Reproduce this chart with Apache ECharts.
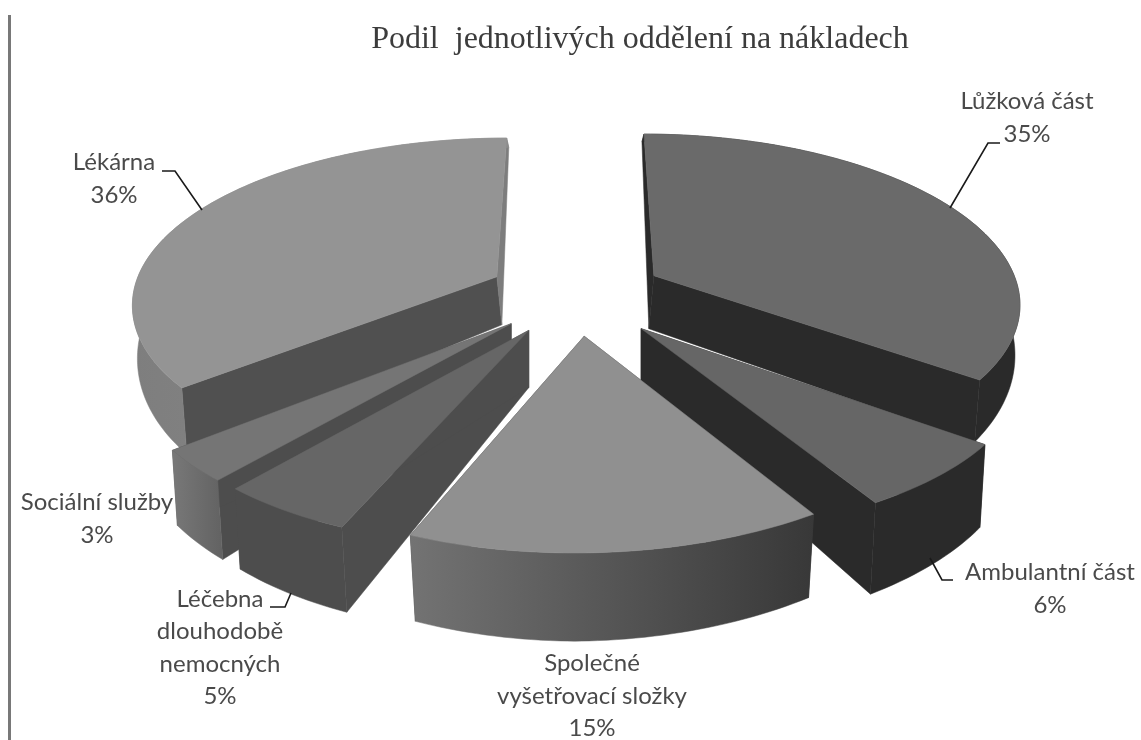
<!DOCTYPE html>
<html><head><meta charset="utf-8">
<style>html,body{margin:0;padding:0;background:#fff}#c{width:1141px;height:740px;filter:blur(0.7px)}</style>
<script src="https://cdn.jsdelivr.net/npm/echarts@6/dist/echarts.min.js"></script>
</head><body><div id="c"></div>
<script>
const titleText = 'Podil  jednotlivých oddělení na nákladech';
const categories = ['Lůžková část','Ambulantní část','Společné\nvyšetřovací složky','Léčebna\ndlouhodobě\nnemocných','Sociální služby','Lékárna'];
const shares = [35,6,15,5,3,36];

// styling, per slice
const topColors  = ['#6a6a6a','#666666','#909090','#666666','#757575','#949494'];
const sideStart  = ['#2a2a2a','#2a2a2a','#3a3a3a','#4d4d4d','#4d4d4d','#505050'];
const sideEnd    = ['#2a2a2a','#2a2a2a','#3a3a3a','#4d4d4d','#4d4d4d','#7d7d7d'];
const rimColors  = [['#2a2a2a','#2a2a2a'],['#2a2a2a','#2a2a2a'],['#737373','#383838'],['#4d4d4d','#4d4d4d'],['#787878','#626262'],['#7e7e7e','#8c8c8c']];
const depthScale = [0.95,1.12,1,1,1,1];
const apexDepth  = [1.17,1,1,1,1,1];
const radiusX = [0.99,1,1,1,1,0.985];
const radiusY = [0.985,1,1,1,1,0.96];
const shearScale = [1,1,0.65,1,1,1];
const pixelNudge = [[0,0],[3,4],[0,0],[0,0],[0,0],[0,0]];
const apexInward = [1,0,0,0,0,1];
const drawOrder  = [2,4,6,5,3,1];
const labelCenter = [[1027,118],[1050,589],[592,696],[220,648],[97,519],[114,179]];
const leaders = [[[950,208],[988,143],[1000,143]],[[930,558],[942,580],[953,580]],null,[[291,593],[285,607],[270,607]],null,[[202,210],[175,171],[162,171]]];

// projection of the tilted, exploded pie
const CX=576, CY=294, R=370, TILT=0.46, K=0.15, EXPLODE=0.24;
function proj(X,Y,down,nudge,inward,shear){
  const s=1/(1-K*Y);
  const fade=X>0.6?Math.max(0.1,1-(X-0.6)*2.5):1;
  let x=CX+X*R*s-12*shear*fade*Math.pow(Math.max(0,Y),2), y=CY+Y*R*TILT*s;
  if(down){
    const d=Math.max(0,Y>-0.1?48+30*(Y+0.1):48+40*(Y+0.1))*down;
    const dx=x-CX, t=Math.max(-1,Math.min(1,dx/20));
    const f=Y>-0.1?1:Math.max(0,1+(Y+0.1)*0.6);
    x-=5*t*f*inward; y+=d;
  }
  return [x+nudge[0],y+nudge[1]];
}
const total=shares.reduce((a,b)=>a+b,0);

function renderItem(params,api){
  const i=params.dataIndex, v=api.value(0);
  let before=0; for(let j=0;j<i;j++) before+=shares[j];
  const a0=before/total*2*Math.PI, a1=(before+v)/total*2*Math.PI, m=(a0+a1)/2;
  const ox=Math.sin(m)*EXPLODE, oy=-Math.cos(m)*EXPLODE, nu=pixelNudge[i], sh=shearScale[i];
  const n=Math.max(6,Math.round(v*3));
  const arc=[]; for(let k=0;k<=n;k++){const a=a0+(a1-a0)*k/n; arc.push([ox+radiusX[i]*Math.sin(a),oy-radiusY[i]*Math.cos(a)]);}
  const D=depthScale[i], z=drawOrder[i]*10;
  const top=arc.map(p=>proj(p[0],p[1],0,nu,1,sh));
  const bot=arc.map(p=>proj(p[0],p[1],D,nu,1,sh));
  const A=proj(ox,oy,0,nu,1,sh), B=proj(ox,oy,D*apexDepth[i],nu,apexInward[i],sh);
  const kids=[];
  const poly=(pts,fill,zz)=>({type:'polygon',shape:{points:pts},style:{fill:fill,stroke:fill,lineWidth:0.5},z2:z+zz});
  kids.push(poly([A,top[0],bot[0],B],sideStart[i],0));
  kids.push(poly([A,top[n],bot[n],B],sideEnd[i],0));
  kids.push(poly(top.concat(bot.slice().reverse()),new echarts.graphic.LinearGradient(0,0,1,0,[{offset:0,color:rimColors[i][0]},{offset:1,color:rimColors[i][1]}]),1));
  kids.push(poly([A].concat(top),topColors[i],2));
  if(leaders[i]) kids.push({type:'polyline',shape:{points:leaders[i]},style:{fill:null,stroke:'#1a1a1a',lineWidth:1.6},z2:200});
  kids.push({type:'text',z2:201,style:{text:categories[i]+'\n'+v+'%',x:labelCenter[i][0],y:labelCenter[i][1],align:'center',verticalAlign:'middle',font:'24px Lato',lineHeight:32.5,fill:'#4a4a4a'}});
  return {type:'group',children:kids};
}

const chart=echarts.init(document.getElementById('c'),null,{renderer:'canvas'});
chart.setOption({
  animation:false,backgroundColor:'#fff',
  title:{text:titleText,left:635,top:19,textAlign:'center',textStyle:{fontFamily:'Liberation Serif',fontWeight:'normal',fontSize:32,color:'#3c3c3c'}},
  graphic:[{type:'rect',shape:{x:8,y:15,width:3,height:725},style:{fill:'#787878'}}],
  series:[{type:'custom',coordinateSystem:'none',renderItem:renderItem,data:shares.map((v,i)=>[v,categories[i]])}]
});
</script></body></html>
